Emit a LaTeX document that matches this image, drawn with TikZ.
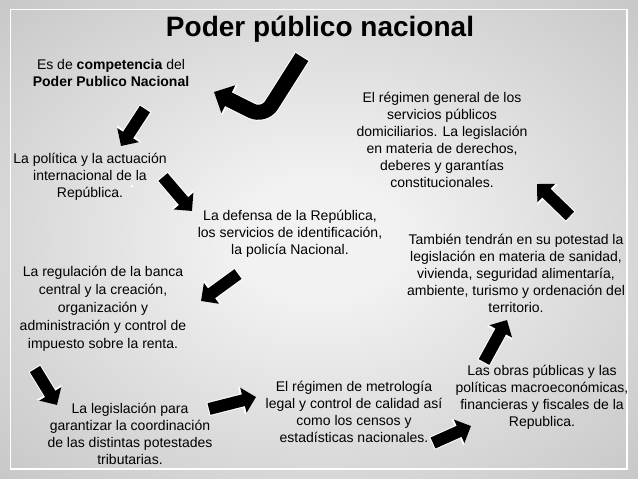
\documentclass[tikz,border=0pt]{standalone}
\usepackage{fontspec}
\setmainfont{Liberation Sans}
\usetikzlibrary{arrows.meta}
\definecolor{bgin}{HTML}{F2F2F2}
\definecolor{bgout}{HTML}{939393}
\pgfdeclareradialshading{bgshade}{\pgfpoint{0bp}{0bp}}{color(0bp)=(bgin); color(6bp)=(bgin); color(72bp)=(bgout)}
\begin{document}
\begin{tikzpicture}[x=1pt,y=-1pt,
  txt/.style={align=center, font=\fontsize{14}{17}\selectfont, inner sep=0pt, text=black},
  ttl/.style={font=\fontsize{28}{32}\selectfont\bfseries, inner sep=0pt},
  blk/.style={draw=black, line width=12pt, -{Triangle[length=13pt,width=25pt]},
    preaction={draw=white, line width=14pt, shorten <=-1pt, -{Triangle[length=15pt,width=28pt]}}},
  bighook/.style={draw=black, line width=15pt, rounded corners=14pt, -{Triangle[length=16pt,width=30pt]},
    preaction={draw=white, line width=17pt, shorten <=-1pt, -{Triangle[length=18pt,width=33pt]}}}]
\useasboundingbox (0,0) rectangle (638,479);
\shade[shading=bgshade] (0,0) rectangle (638,479);
\draw[white, line width=1.2pt] (10.5,9.5) rectangle (627,469);

\node[ttl] (title) at (320,29) {Poder público nacional};

\node[txt] (t1) at (111,73) {Es de \textbf{competencia} del\\\textbf{Poder Publico Nacional}};
\node[txt] (t2) at (442,140) {El régimen general de los\\servicios públicos\\domiciliarios. La legislación\\en materia de derechos,\\deberes y garantías\\constitucionales.};
\node[txt] (t3) at (90,177) {La política y la actuación\\internacional de la\\República.};
\node[txt] (t4) at (290,234) {La defensa de la República,\\los servicios de identificación,\\la policía Nacional.};
\node[txt] (t5) at (516,273) {También tendrán en su potestad la\\legislación en materia de sanidad,\\vivienda, seguridad alimentaría,\\ambiente, turismo y ordenación del\\territorio.};
\node[txt, font=\fontsize{14}{18}\selectfont] (t6) at (103,309) {La regulación de la banca\\central y la creación,\\organización y\\administración y control de\\impuesto sobre la renta.};
\node[txt] (t7) at (130,434) {La legislación para\\garantizar la coordinación\\de las distintas potestades\\tributarias.};
\node[txt] (t8) at (354,412) {El régimen de metrología\\legal y control de calidad así\\como los censos y\\estadísticas nacionales.};
\node[txt] (t9) at (542,397) {Las obras públicas y las\\políticas macroeconómicas,\\financieras y fiscales de la\\Republica.};

\fill[white] (132,186) circle (1.5);

\coordinate (h0) at (302,57);
\coordinate (h1) at (264,117);
\coordinate (h2) at (214,92);
\draw[bighook] (h0) -- (h1) -- (h2);

\coordinate (a2s) at (145,109); \coordinate (a2e) at (121,146);
\coordinate (a3s) at (163,177); \coordinate (a3e) at (192,211);
\coordinate (a4s) at (238,274); \coordinate (a4e) at (201,301);
\coordinate (a5s) at (35,369);  \coordinate (a5e) at (57,405);
\coordinate (a6s) at (209,409); \coordinate (a6e) at (256,397);
\coordinate (a7s) at (433,443); \coordinate (a7e) at (471,426);
\coordinate (a8s) at (484,362); \coordinate (a8e) at (507,320);
\coordinate (a9s) at (570,216); \coordinate (a9e) at (537,184);
\foreach \i in {2,...,9} \draw[blk] (a\i s) -- (a\i e);
\end{tikzpicture}
\end{document}
